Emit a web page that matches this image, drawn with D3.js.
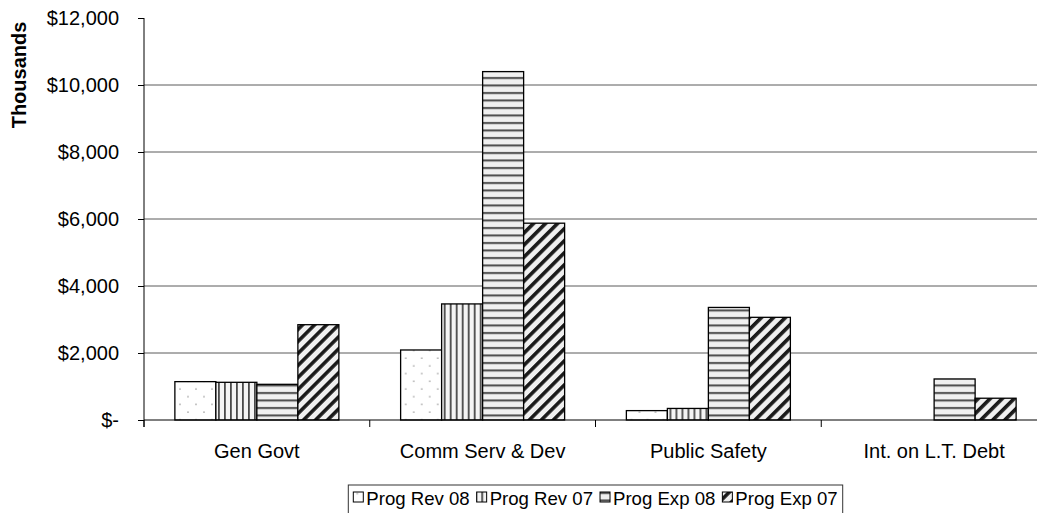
<!DOCTYPE html>
<html>
<head>
<meta charset="utf-8">
<script src="https://cdn.jsdelivr.net/npm/d3@7"></script>
<style>
  body { margin: 0; background: #fff; }
  svg { display: block; font-family: "Liberation Sans", Arial, sans-serif; }
</style>
</head>
<body>
<svg id="chart" width="1037" height="513"></svg>
<script>
// categories, series and values (thousands of $)
const categories = ["Gen Govt", "Comm Serv & Dev", "Public Safety", "Int. on L.T. Debt"];
const series = ["Prog Rev 08", "Prog Rev 07", "Prog Exp 08", "Prog Exp 07"];
const progRev08 = [1145, 2090, 280, 0];
const progRev07 = [1125, 3465, 345, 0];
const progExp08 = [1065, 10400, 3360, 1225];
const progExp07 = [2845, 5875, 3065, 650];
const yTicks = [0, 2000, 4000, 6000, 8000, 10000, 12000];

const valuesBySeries = [progRev08, progRev07, progExp08, progExp07];
const rows = categories.map((c, i) => ({
  category: c,
  values: series.map((s, j) => ({ key: s, value: valuesBySeries[j][i] }))
}));

const svg = d3.select("#chart");
const plotL = 144, plotR = 1047, plotT = 18, plotB = 420;
const fontSize = 20;

const x0 = d3.scaleBand().domain(categories).range([plotL, plotR]);
const x1 = d3.scaleBand().domain(series).range([0, x0.bandwidth()]).paddingOuter(0.753);
const y = d3.scaleLinear().domain([0, 12000]).range([plotB, plotT]);

// fill patterns
const defs = svg.append("defs");
const pDots = defs.append("pattern").attr("id", "pat0").attr("patternUnits", "userSpaceOnUse")
  .attr("width", 16).attr("height", 15.4);
pDots.append("rect").attr("width", 16).attr("height", 15.4).attr("fill", "#fff");
pDots.append("circle").attr("cx", 4).attr("cy", 4).attr("r", 0.9).attr("fill", "#b0b0b0");
pDots.append("circle").attr("cx", 12).attr("cy", 11.7).attr("r", 0.9).attr("fill", "#b0b0b0");

const pVert = defs.append("pattern").attr("id", "pat1").attr("patternUnits", "userSpaceOnUse")
  .attr("width", 6).attr("height", 6);
pVert.append("rect").attr("width", 6).attr("height", 6).attr("fill", "#f4f4f4");
pVert.append("rect").attr("x", 2).attr("width", 1.8).attr("height", 6).attr("fill", "#4a4a4a");

const pHor = defs.append("pattern").attr("id", "pat2").attr("patternUnits", "userSpaceOnUse")
  .attr("width", 7.5).attr("height", 7.5);
pHor.append("rect").attr("width", 7.5).attr("height", 7.5).attr("fill", "#f0f0f0");
pHor.append("rect").attr("y", 2).attr("width", 7.5).attr("height", 2).attr("fill", "#4a4a4a");

const pDiag = defs.append("pattern").attr("id", "pat3").attr("patternUnits", "userSpaceOnUse")
  .attr("width", 8.5).attr("height", 8.5).attr("patternTransform", "rotate(45)");
pDiag.append("rect").attr("width", 8.5).attr("height", 8.5).attr("fill", "#f0f0f0");
pDiag.append("rect").attr("width", 3.6).attr("height", 8.5).attr("fill", "#1a1a1a");

const fills = d3.scaleOrdinal().domain(series).range(["url(#pat0)", "url(#pat1)", "url(#pat2)", "url(#pat3)"]);

// gridlines
svg.append("g").selectAll("line")
  .data(yTicks.filter(t => t > 0 && t < 12000))
  .enter().append("line")
  .attr("x1", plotL).attr("x2", plotR)
  .attr("y1", d => y(d)).attr("y2", d => y(d))
  .attr("stroke", "#5a5a5a").attr("stroke-width", 1);

// bars
const groups = svg.append("g").selectAll("g")
  .data(rows)
  .enter().append("g")
  .attr("transform", d => `translate(${x0(d.category)},0)`);

groups.selectAll("rect")
  .data(d => d.values.filter(v => v.value > 0))
  .enter().append("rect")
  .attr("x", d => x1(d.key))
  .attr("y", d => y(d.value))
  .attr("width", x1.bandwidth())
  .attr("height", d => plotB - y(d.value))
  .attr("fill", d => fills(d.key))
  .attr("stroke", "#000")
  .attr("stroke-width", 1.3);

// y axis
const yAxis = svg.append("g")
  .attr("transform", `translate(${plotL},0)`)
  .call(d3.axisLeft(y).tickValues(yTicks).tickSize(6).tickPadding(19)
    .tickFormat(d => d === 0 ? "$-" : "$" + d3.format(",")(d)));
yAxis.select(".domain").remove();
yAxis.selectAll("line").attr("stroke", "#000");
yAxis.selectAll("text").attr("font-size", fontSize).attr("fill", "#000")
  .attr("font-family", "Liberation Sans, Arial, sans-serif");
svg.append("line").attr("x1", plotL).attr("x2", plotL).attr("y1", plotT).attr("y2", plotB + 7)
  .attr("stroke", "#000");

// x axis
const bounds = categories.map(c => x0(c)).concat([plotR]);
svg.append("line").attr("x1", plotL).attr("x2", plotR).attr("y1", plotB).attr("y2", plotB)
  .attr("stroke", "#000");
svg.append("g").selectAll("line").data(bounds).enter().append("line")
  .attr("x1", d => d).attr("x2", d => d).attr("y1", plotB).attr("y2", plotB + 7)
  .attr("stroke", "#000");
svg.append("g").selectAll("text").data(categories).enter().append("text")
  .attr("x", d => x0(d) + x0.bandwidth() / 2)
  .attr("y", 458)
  .attr("text-anchor", "middle")
  .attr("font-size", fontSize)
  .text(d => d);

// axis title
svg.append("text")
  .attr("transform", "translate(25.5,75) rotate(-90)")
  .attr("text-anchor", "middle")
  .attr("font-size", fontSize)
  .attr("font-weight", "bold")
  .text("Thousands");

// legend
const legend = svg.append("g");
const legendBox = legend.append("rect").attr("fill", "#fff").attr("stroke", "#333").attr("stroke-width", 1);
let cx = 0;
series.forEach(s => {
  const g = legend.append("g");
  g.append("rect").attr("x", cx).attr("y", -13).attr("width", 10).attr("height", 10)
    .attr("fill", fills(s)).attr("stroke", "#000").attr("stroke-width", 1);
  const t = g.append("text").attr("x", cx + 13).attr("y", 0).attr("font-size", 18.6).text(s);
  const w = t.node().getComputedTextLength();
  cx += 13 + w + 7;
});
const totalW = cx - 7;
const lx = (plotL + plotR) / 2 - totalW / 2;
legend.attr("transform", `translate(${lx},505)`);
legendBox.attr("x", -5).attr("y", -20).attr("width", totalW + 10).attr("height", 40);
</script>
</body>
</html>
